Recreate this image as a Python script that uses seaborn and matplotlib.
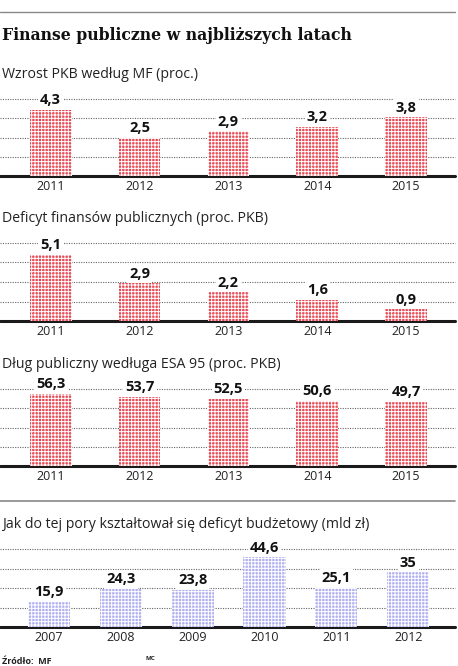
import matplotlib
matplotlib.use("Agg")
import matplotlib.pyplot as plt
import seaborn as sns
import pandas as pd

# ---------------------------
# Data
# ---------------------------
years_fc = ["2011", "2012", "2013", "2014", "2015"]
pkb_growth = [4.3, 2.5, 2.9, 3.2, 3.8]
deficit_pct = [5.1, 2.9, 2.2, 1.6, 0.9]
debt_pct = [56.3, 53.7, 52.5, 50.6, 49.7]

years_hist = ["2007", "2008", "2009", "2010", "2011", "2012"]
budget_deficit = [15.9, 24.3, 23.8, 44.6, 25.1, 35]

title = "Finanse publiczne w najbliższych latach"
subtitles = [
    "Wzrost PKB według MF (proc.)",
    "Deficyt finansów publicznych (proc. PKB)",
    "Dług publiczny wedługa ESA 95 (proc. PKB)",
    "Jak do tej pory kształtował się deficyt budżetowy (mld zł)",
]

sns.set_theme(style="white")
plt.rcParams['font.family'] = ['Open Sans', 'DejaVu Sans']
plt.rcParams['hatch.linewidth'] = 0.7

W, H = 458, 666
fig = plt.figure(figsize=(W / 100, H / 100), dpi=100)


def px_axes(x0, top, x1, base):
    # pixel box (top-left origin) -> figure fraction
    return fig.add_axes([x0 / W, 1 - base / H, (x1 - x0) / W, (base - top) / H])


def fmt(v):
    return f"{v:g}".replace(".", ",")


def panel(cats, vals, top, base, ymax, color, xlim, width, sub, sub_y):
    ax = px_axes(0, top, 455, base)
    df = pd.DataFrame({"cat": cats, "val": vals})
    sns.barplot(data=df, x="cat", y="val", ax=ax, color=color, width=width,
                saturation=1, linewidth=0, edgecolor="white", hatch="+++++", zorder=3)
    for p in ax.patches:
        p.set_edgecolor("white")
        p.set_linewidth(0)
    ax.set_ylim(0, ymax)
    ax.set_xlim(*xlim)
    for g in [ymax * k / 4 for k in range(1, 5)]:
        ax.axhline(g, color="#666666", lw=0.8, ls=(0, (1, 1.2)), zorder=1, clip_on=False)
    ax.axhline(0, color="#1a1a1a", lw=2.2, zorder=2, clip_on=False)
    for i, v in enumerate(vals):
        ax.annotate(fmt(v), (i, v), xytext=(0, 2), textcoords="offset points",
                    ha="center", va="bottom", fontsize=10.5, fontweight="bold",
                    color="#111111", zorder=5, annotation_clip=False,
                    bbox=dict(boxstyle="square,pad=0.15", fc="white", ec="none"))
    ax.set_xlabel("")
    ax.set_ylabel("")
    ax.set_yticks([])
    ax.tick_params(axis="x", length=0, pad=3, labelsize=9, labelcolor="#222222")
    for s in ax.spines.values():
        s.set_visible(False)
    ax.patch.set_alpha(0)
    fig.text(2 / W, 1 - sub_y / H, sub, fontsize=10.2, color="#222222", va="center", ha="left")
    return ax


red = "#e84a56"
blue = "#b0b0f2"

# top rule and title
fig.add_artist(plt.Line2D([0, 455 / W], [1 - 12 / H, 1 - 12 / H], color="#888888", lw=1))
fig.text(2 / W, 1 - 36 / H, title, fontsize=11.3, fontweight="bold", family="DejaVu Serif",
         color="#111111", va="center", ha="left")

panel(years_fc, pkb_growth, 99, 176, 5, red, (-0.57, 4.55), 0.47, subtitles[0], 75)
panel(years_fc, deficit_pct, 243, 321, 6, red, (-0.57, 4.55), 0.47, subtitles[1], 219)
panel(years_fc, debt_pct, 389, 466, 60, red, (-0.57, 4.55), 0.47, subtitles[2], 364)

fig.add_artist(plt.Line2D([0, 455 / W], [1 - 501 / H, 1 - 501 / H], color="#888888", lw=1.2))

panel(years_hist, budget_deficit, 549, 627, 50, blue, (-0.68, 5.65), 0.585, subtitles[3], 525)

fig.text(2 / W, 1 - 661 / H, "Źródło:  MF", fontsize=6.5, fontweight="bold", color="#222222",
         va="center", ha="left")
fig.text(145 / W, 1 - 659 / H, "MC", fontsize=4.5, fontweight="bold", color="#222222",
         va="center", ha="left")

fig.savefig("out.png", dpi=100)
